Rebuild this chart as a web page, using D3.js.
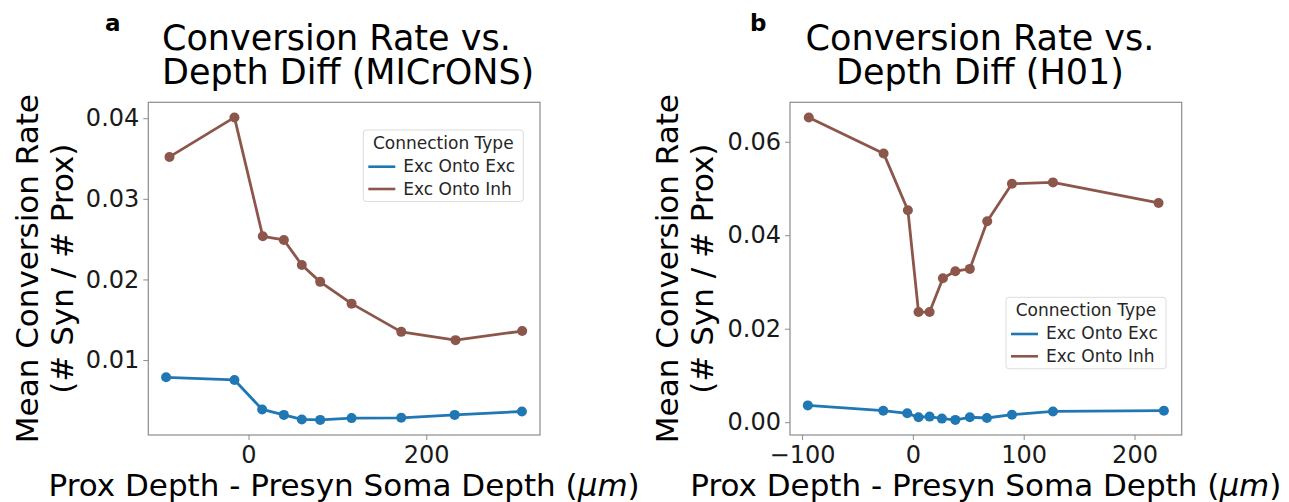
<!DOCTYPE html>
<html>
<head>
<meta charset="utf-8">
<script src="https://cdn.jsdelivr.net/npm/d3@7/dist/d3.min.js"></script>
<style>
  html, body { margin: 0; padding: 0; background: #fff; }
  svg { display: block; font-family: "DejaVu Sans", sans-serif; }
</style>
</head>
<body>
<svg id="fig" width="1289" height="502"></svg>
<script>
// ---- MICrONS: depth difference (µm) vs mean conversion rate ----
const micronsExcX = [-92.7, -15.8, 15.4, 39.8, 60.0, 80.7, 116.0, 171.9, 232.0, 307.7];
const micronsExcY = [0.00786, 0.00753, 0.00387, 0.00320, 0.00263, 0.00258, 0.00280, 0.00284, 0.00320, 0.00362];
const micronsInhX = [-88.9, -15.8, 16.1, 39.8, 60.0, 80.7, 116.0, 171.9, 233.0, 308.0];
const micronsInhY = [0.0352, 0.0401, 0.02535, 0.0249, 0.0218, 0.0197, 0.0170, 0.0135, 0.01247, 0.0136];

// ---- H01: depth difference (µm) vs mean conversion rate ----
const h01ExcX = [-94.8, -26.7, -5.1, 5.1, 15.1, 26.2, 38.3, 51.4, 66.8, 89.4, 126.4, 226.5];
const h01ExcY = [0.0036, 0.00246, 0.0019, 0.00106, 0.0012, 0.00077, 0.0005, 0.00106, 0.0009, 0.0016, 0.0023, 0.00246];
const h01InhX = [-93.9, -26.4, -4.5, 5.1, 15.1, 27.1, 38.3, 51.4, 67.1, 89.4, 126.4, 221.7];
const h01InhY = [0.0652, 0.0575, 0.04535, 0.02357, 0.02357, 0.0308, 0.0323, 0.0328, 0.0430, 0.0510, 0.0513, 0.0469];

// ---- axis ticks ----
const micronsXTicks = [0, 200];
const micronsYTicks = [0.01, 0.02, 0.03, 0.04];
const h01XTicks = [-100, 0, 100, 200];
const h01YTicks = [0.00, 0.02, 0.04, 0.06];

// ---- series / legend ----
const seriesNames = ["Exc Onto Exc", "Exc Onto Inh"];
const seriesColors = ["#1f77b4", "#8c564b"];
const legendTitle = "Connection Type";

const xLabel = "Prox Depth - Presyn Soma Depth (";
const yLabelLines = ["Mean Conversion Rate", "(# Syn / # Prox)"];

const svg = d3.select("#fig");

function padded(vals) {
  const [lo, hi] = d3.extent(vals);
  const m = (hi - lo) * 0.05;
  return [lo - m, hi + m];
}

function drawPanel(cfg) {
  const { left, right, top, bottom } = cfg.box;
  const g = svg.append("g");

  const allX = cfg.series.flatMap(s => s.x);
  const allY = cfg.series.flatMap(s => s.y);
  const x = d3.scaleLinear().domain(padded(allX)).range([left, right]);
  const y = d3.scaleLinear().domain(padded(allY)).range([bottom, top]);

  // y axis
  const yAxis = d3.axisLeft(y).tickValues(cfg.yTicks).tickFormat(d3.format(".2f"))
    .tickSize(5).tickPadding(4);
  const ya = g.append("g").attr("transform", `translate(${left},0)`).call(yAxis);
  // x axis
  const xAxis = d3.axisBottom(x).tickValues(cfg.xTicks).tickFormat(d3.format("d"))
    .tickSize(5).tickPadding(5.5);
  const xa = g.append("g").attr("transform", `translate(0,${bottom})`).call(xAxis);
  [ya, xa].forEach(a => {
    a.select(".domain").remove();
    a.selectAll(".tick line").attr("stroke", "#8c8c8c").attr("stroke-width", 1);
    a.selectAll(".tick text").attr("fill", "#1a1a1a")
      .style("font-size", "24px").style("font-family", "DejaVu Sans");
  });

  // frame
  g.append("rect").attr("x", left).attr("y", top)
    .attr("width", right - left).attr("height", bottom - top)
    .attr("fill", "none").attr("stroke", "#8c8c8c").attr("stroke-width", 1.2);

  // series
  const line = d3.line().x(d => x(d[0])).y(d => y(d[1]));
  cfg.series.forEach((s, i) => {
    const pts = s.x.map((v, k) => [v, s.y[k]]);
    g.append("path").datum(pts).attr("d", line)
      .attr("fill", "none").attr("stroke", seriesColors[i])
      .attr("stroke-width", 2.8).attr("stroke-linejoin", "round");
    g.selectAll(null).data(pts).enter().append("circle")
      .attr("cx", d => x(d[0])).attr("cy", d => y(d[1])).attr("r", 5)
      .attr("fill", seriesColors[i]);
  });

  // legend
  const L = cfg.legend;
  const lg = g.append("g").attr("transform", `translate(${L.x},${L.y})`);
  lg.append("rect").attr("width", 160).attr("height", 71.5).attr("rx", 3)
    .attr("fill", "#fff").attr("fill-opacity", 0.85)
    .attr("stroke", "#dcdcdc").attr("stroke-width", 1);
  lg.append("text").attr("x", 80).attr("y", 18.5).attr("text-anchor", "middle")
    .style("font-size", "17px").attr("fill", "#262626").text(legendTitle);
  seriesNames.forEach((name, i) => {
    const cy = 36.7 + i * 22.3;
    lg.append("line").attr("x1", 5).attr("x2", 32).attr("y1", cy).attr("y2", cy)
      .attr("stroke", seriesColors[i]).attr("stroke-width", 2.6);
    lg.append("text").attr("x", 40).attr("y", cy + 5.5)
      .style("font-size", "17px").attr("fill", "#262626").text(name);
  });

  // title (two lines)
  const t = g.append("text").style("font-size", "35px").attr("fill", "#000")
    .attr("text-anchor", cfg.titleAnchor);
  cfg.title.forEach((ln, i) => {
    t.append("tspan").attr("x", cfg.titleX).attr("y", 50 + i * 33.5).text(ln);
  });

  // panel letter
  g.append("text").attr("x", cfg.letterX).attr("y", 31)
    .style("font-size", "23px").style("font-weight", "bold").text(cfg.letter);

  // x label
  const xl = g.append("text").attr("x", (left + right) / 2).attr("y", 496)
    .attr("text-anchor", "middle").style("font-size", "31px").attr("fill", "#000");
  xl.append("tspan").text(xLabel);
  xl.append("tspan").style("font-style", "italic").text("\u03bcm");
  xl.append("tspan").text(")");

  // y label (two lines, rotated)
  const cyMid = (top + bottom) / 2;
  yLabelLines.forEach((ln, i) => {
    const bx = cfg.yLabelX[i];
    g.append("text").attr("transform", `translate(${bx},${cyMid}) rotate(-90)`)
      .attr("text-anchor", "middle").style("font-size", "31px").attr("fill", "#000")
      .text(ln);
  });
}

drawPanel({
  box: { left: 148.3, right: 540, top: 102.3, bottom: 435 },
  series: [{ x: micronsExcX, y: micronsExcY }, { x: micronsInhX, y: micronsInhY }],
  xTicks: micronsXTicks, yTicks: micronsYTicks,
  legend: { x: 363.3, y: 130 },
  title: ["Conversion Rate vs.", "Depth Diff (MICrONS)"],
  titleX: 162, titleAnchor: "start",
  letter: "a", letterX: 105,
  yLabelX: [38.3, 72.7]
});

drawPanel({
  box: { left: 790, right: 1181.7, top: 102.3, bottom: 435 },
  series: [{ x: h01ExcX, y: h01ExcY }, { x: h01InhX, y: h01InhY }],
  xTicks: h01XTicks, yTicks: h01YTicks,
  legend: { x: 1006, y: 297.3 },
  title: ["Conversion Rate vs.", "Depth Diff (H01)"],
  titleX: 980, titleAnchor: "middle",
  letter: "b", letterX: 750,
  yLabelX: [678.3, 712.7]
});
</script>
</body>
</html>
